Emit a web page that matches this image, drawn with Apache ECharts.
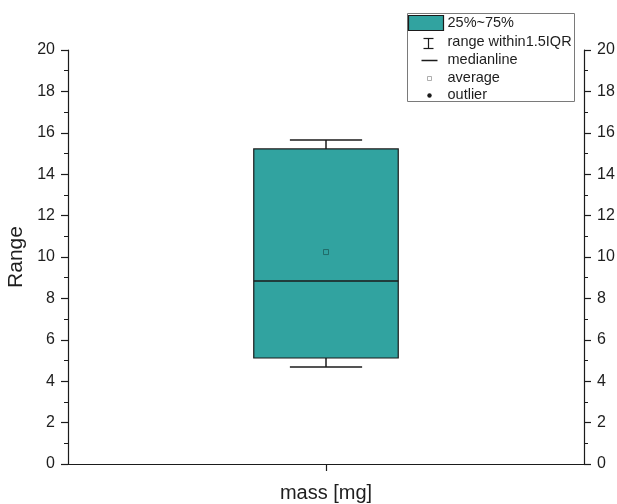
<!DOCTYPE html>
<html>
<head>
<meta charset="utf-8">
<script src="https://cdn.jsdelivr.net/npm/echarts@6/dist/echarts.min.js"></script>
<style>
  html, body { margin: 0; padding: 0; background: #fff; }
  #chart { width: 617px; height: 504px; }
</style>
</head>
<body>
<div id="chart"></div>
<script>
// Box statistics for the single sample group
const categories = ['mass [mg]'];
const whiskerLow = [4.69];
const quartile1 = [5.12];
const medians = [8.84];
const quartile3 = [15.22];
const whiskerHigh = [15.65];
const means = [10.24];
const yTicks = [0, 2, 4, 6, 8, 10, 12, 14, 16, 18, 20];

const FILL = '#31a3a0';
const LINE = '#1b1b1b';
const FONT = 'Liberation Sans, Arial, sans-serif';

const boxData = categories.map((c, i) => [i, whiskerLow[i], quartile1[i], medians[i], quartile3[i], whiskerHigh[i]]);
const meanData = categories.map((c, i) => [i, means[i]]);

function renderBox(params, api) {
  const idx = api.value(0);
  const slot = api.size([1, 0])[0];
  const boxW = slot * 0.28;
  const capW = boxW * 0.5;
  const pLow = api.coord([idx, api.value(1)]);
  const pQ1 = api.coord([idx, api.value(2)]);
  const pMed = api.coord([idx, api.value(3)]);
  const pQ3 = api.coord([idx, api.value(4)]);
  const pHigh = api.coord([idx, api.value(5)]);
  const cx = pQ1[0];
  const ls = { stroke: LINE, lineWidth: 1.5 };
  return {
    type: 'group',
    children: [
      { type: 'line', shape: { x1: cx, y1: pHigh[1], x2: cx, y2: pQ3[1] }, style: ls },
      { type: 'line', shape: { x1: cx - capW / 2, y1: pHigh[1], x2: cx + capW / 2, y2: pHigh[1] }, style: ls },
      { type: 'line', shape: { x1: cx, y1: pLow[1], x2: cx, y2: pQ1[1] }, style: ls },
      { type: 'line', shape: { x1: cx - capW / 2, y1: pLow[1], x2: cx + capW / 2, y2: pLow[1] }, style: ls },
      { type: 'rect', shape: { x: cx - boxW / 2, y: pQ3[1], width: boxW, height: pQ1[1] - pQ3[1] },
        style: { fill: FILL, stroke: LINE, lineWidth: 1.2 } },
      { type: 'line', shape: { x1: cx - boxW / 2, y1: pMed[1], x2: cx + boxW / 2, y2: pMed[1] }, style: ls }
    ]
  };
}

const yAxisBase = {
  type: 'value', min: 0, max: 20, interval: 2,
  axisLine: { show: true, lineStyle: { color: LINE, width: 1.2 } },
  axisTick: { show: true, inside: false, length: 7, lineStyle: { color: LINE, width: 1.2 } },
  minorTick: { show: true, splitNumber: 2, length: 4, lineStyle: { color: LINE, width: 1 } },
  splitLine: { show: false },
  axisLabel: { color: '#1e1e1e', fontSize: 16, fontFamily: FONT, margin: 13 }
};

const chart = echarts.init(document.getElementById('chart'), null, { renderer: 'canvas' });
chart.setOption({
  animation: false,
  backgroundColor: '#fff',
  grid: { left: 68, right: 33, top: 50, bottom: 40, containLabel: false, outerBoundsMode: 'none' },
  xAxis: {
    type: 'category',
    data: categories.map(() => ''),
    name: categories[0],
    nameLocation: 'middle',
    nameGap: 19,
    nameTextStyle: { color: '#1e1e1e', fontSize: 20, fontFamily: FONT },
    axisLine: { lineStyle: { color: LINE, width: 1.2 } },
    axisTick: { show: true, alignWithLabel: true, length: 7, lineStyle: { color: LINE, width: 1.2 } },
    axisLabel: { show: false }
  },
  yAxis: [
    Object.assign({}, yAxisBase, {
      position: 'left',
      name: 'Range',
      nameLocation: 'middle',
      nameGap: 35,
      nameTextStyle: { color: '#1e1e1e', fontSize: 21, fontFamily: FONT },
      axisLabel: Object.assign({}, yAxisBase.axisLabel, {
        formatter: v => yTicks.includes(v) ? String(v) : ''
      })
    }),
    Object.assign({}, yAxisBase, {
      position: 'right',
      axisLabel: Object.assign({}, yAxisBase.axisLabel, {
        formatter: v => yTicks.includes(v) ? String(v) : ''
      })
    })
  ],
  series: [
    {
      type: 'custom',
      name: '25%~75%',
      renderItem: renderBox,
      encode: { x: 0, y: [1, 2, 3, 4, 5] },
      data: boxData,
      z: 2
    },
    {
      type: 'scatter',
      name: 'average',
      data: meanData,
      symbol: 'rect',
      symbolSize: 5,
      itemStyle: { color: 'rgba(0,0,0,0)', borderColor: '#1d5f5d', borderWidth: 1 },
      z: 5
    }
  ],
  graphic: [
    {
      type: 'group',
      left: 407, top: 13,
      children: [
        { type: 'rect', shape: { x: 0, y: 0, width: 167, height: 88 },
          style: { fill: '#fff', stroke: '#7a7a7a', lineWidth: 1 } },
        { type: 'rect', shape: { x: 1, y: 2, width: 35, height: 15 },
          style: { fill: FILL, stroke: LINE, lineWidth: 1.2 } },
        { type: 'line', shape: { x1: 21, y1: 25, x2: 21, y2: 35 }, style: { stroke: LINE, lineWidth: 1.2 } },
        { type: 'line', shape: { x1: 16, y1: 25, x2: 26, y2: 25 }, style: { stroke: LINE, lineWidth: 1.2 } },
        { type: 'line', shape: { x1: 16, y1: 35, x2: 26, y2: 35 }, style: { stroke: LINE, lineWidth: 1.2 } },
        { type: 'line', shape: { x1: 14, y1: 47, x2: 30, y2: 47 }, style: { stroke: LINE, lineWidth: 1.5 } },
        { type: 'rect', shape: { x: 20, y: 63, width: 4, height: 4 },
          style: { fill: '#fff', stroke: '#999', lineWidth: 0.8 } },
        { type: 'circle', shape: { cx: 22, cy: 82, r: 2.2 }, style: { fill: LINE } },
        { type: 'text', x: 40, y: 9, style: { text: '25%~75%', fill: '#1e1e1e', font: '14.5px ' + FONT, verticalAlign: 'middle' } },
        { type: 'text', x: 40, y: 28, style: { text: 'range within1.5IQR', fill: '#1e1e1e', font: '14.5px ' + FONT, verticalAlign: 'middle' } },
        { type: 'text', x: 40, y: 46, style: { text: 'medianline', fill: '#1e1e1e', font: '14.5px ' + FONT, verticalAlign: 'middle' } },
        { type: 'text', x: 40, y: 64, style: { text: 'average', fill: '#1e1e1e', font: '14.5px ' + FONT, verticalAlign: 'middle' } },
        { type: 'text', x: 40, y: 81, style: { text: 'outlier', fill: '#1e1e1e', font: '14.5px ' + FONT, verticalAlign: 'middle' } }
      ]
    }
  ]
});
</script>
</body>
</html>
